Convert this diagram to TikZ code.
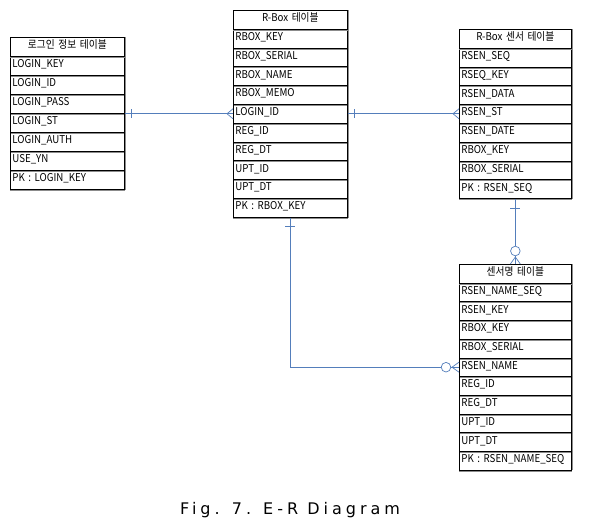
\documentclass[tikz,border=0pt]{standalone}
\usepackage{fontspec}
\setmainfont{Noto Sans CJK KR}[FakeStretch=0.9]
\newfontfamily\capfont[LetterSpace=25]{DejaVu Sans}
\usetikzlibrary{calc}
\definecolor{relc}{RGB}{84,126,187}
\definecolor{shadowc}{RGB}{140,140,140}
\def\rowh{18.8}
\tikzset{
  cell/.style={draw=black, line width=0.7pt, minimum height=\rowh pt, inner xsep=2pt, inner ysep=0pt,
    text height=7.2pt, text depth=3.2pt, anchor=north west, font=\fontsize{10.8}{12}\selectfont},
  rowcell/.style={cell, text width=#1pt-4pt, align=left},
  titlecell/.style={cell, text width=#1pt-4pt, align=center},
  shadowline/.style={draw=shadowc, line width=0.8pt},
  rel/.style={draw=relc, line width=0.7pt},
  relcircle/.style={draw=relc, line width=0.7pt, fill=white},
}
\newcommand\ertable[6]{%
  \node[titlecell=#4] (#1-0) at (#2,#3) {#5};
  \foreach \r [count=\i] in {#6}{%
    \node[rowcell=#4] (#1-\i) at (#2,{#3+\i*\rowh}) {\r};
    \draw[shadowline] ([yshift=-0.7pt]#1-\i.south west) -- ([yshift=-0.7pt,xshift=0.7pt]#1-\i.south east);
    \draw[shadowline] ([xshift=0.7pt]#1-\i.north east) -- ([xshift=0.7pt]#1-\i.south east);
  }%
  \draw[shadowline] ([yshift=-0.7pt]#1-0.south west) -- ([yshift=-0.7pt,xshift=0.7pt]#1-0.south east);
  \draw[shadowline] ([xshift=0.7pt]#1-0.north east) -- ([xshift=0.7pt]#1-0.south east);
}
\begin{document}
\begin{tikzpicture}[x=1pt,y=-1pt]
\useasboundingbox[fill=white] (0,0) rectangle (591,525);

\def\rowh{19}
\ertable{login}{10}{37}{114}{로그인 정보 테이블}{LOGIN\_KEY,LOGIN\_ID,LOGIN\_PASS,LOGIN\_ST,LOGIN\_AUTH,USE\_YN,PK : LOGIN\_KEY}
\def\rowh{18.8}
\ertable{rbox}{233}{10}{114}{R-Box 테이블}{RBOX\_KEY,RBOX\_SERIAL,RBOX\_NAME,RBOX\_MEMO,LOGIN\_ID,REG\_ID,REG\_DT,UPT\_ID,UPT\_DT,PK : RBOX\_KEY}
\ertable{sens}{459}{29}{112}{R-Box 센서 테이블}{RSEN\_SEQ,RSEQ\_KEY,RSEN\_DATA,RSEN\_ST,RSEN\_DATE,RBOX\_KEY,RBOX\_SERIAL,PK : RSEN\_SEQ}
\def\rowh{18.7}
\ertable{name}{459}{264}{112}{센서명 테이블}{RSEN\_NAME\_SEQ,RSEN\_KEY,RBOX\_KEY,RBOX\_SERIAL,RSEN\_NAME,REG\_ID,REG\_DT,UPT\_ID,UPT\_DT,PK : RSEN\_NAME\_SEQ}

% login -> rbox
\coordinate (a1) at (rbox-5.west -| login-1.east);
\draw[rel] (a1) -- (rbox-5.west);
\draw[rel] ($(a1)+(7,-4.5)$) -- ($(a1)+(7,4.5)$);
\draw[rel] ($(rbox-5.west)+(0,-5)$) -- ($(rbox-5.west)+(-6,0)$) -- ($(rbox-5.west)+(0,5)$);

% rbox -> sensor
\coordinate (a2) at (rbox-5.east -| sens-4.west);
\draw[rel] (rbox-5.east) -- (a2);
\draw[rel] ($(rbox-5.east)+(7,-4.5)$) -- ($(rbox-5.east)+(7,4.5)$);
\draw[rel] ($(a2)+(0,-5)$) -- ($(a2)+(-6,0)$) -- ($(a2)+(0,5)$);

% sensor -> sensor name
\draw[rel] (sens-8.south) -- (name-0.north);
\draw[rel] ($(sens-8.south)+(-5,9)$) -- ($(sens-8.south)+(5,9)$);
\draw[relcircle] ($(name-0.north)+(0,-13)$) circle (4.8);
\draw[rel] ($(name-0.north)+(-5,0)$) -- ($(name-0.north)+(0,-7)$) -- ($(name-0.north)+(5,0)$);

% rbox -> sensor name
\coordinate (a4) at (rbox-10.south |- name-5.west);
\draw[rel] (rbox-10.south) -- (a4) -- (name-5.west);
\draw[rel] ($(rbox-10.south)+(-5,9)$) -- ($(rbox-10.south)+(5,9)$);
\draw[relcircle] ($(name-5.west)+(-13,0)$) circle (4.8);
\draw[rel] ($(name-5.west)+(0,-5)$) -- ($(name-5.west)+(-7,0)$) -- ($(name-5.west)+(0,5)$);

\node[anchor=base] (cap) at (290,514) {\capfont\fontsize{16}{19}\selectfont Fig. 7. E-R Diagram};
\end{tikzpicture}
\end{document}
